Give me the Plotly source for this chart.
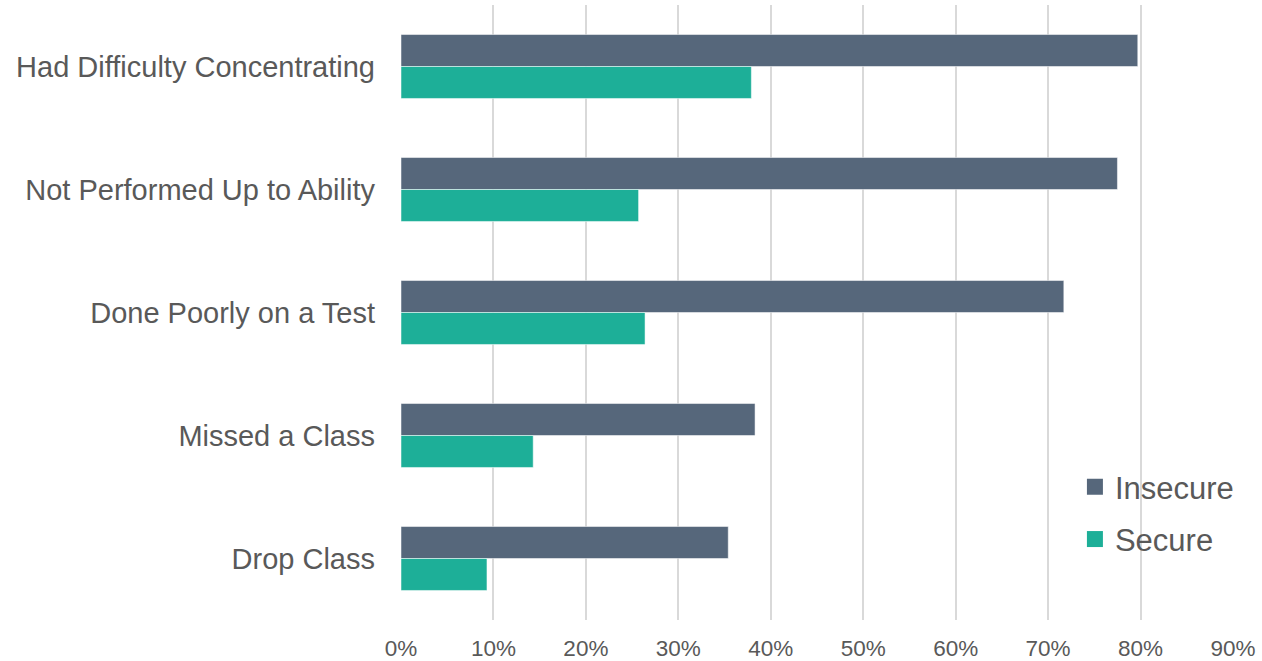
import plotly.graph_objects as go

categories = ["Had Difficulty Concentrating", "Not Performed Up to Ability",
              "Done Poorly on a Test", "Missed a Class", "Drop Class"]
insecure = [0.797, 0.775, 0.717, 0.383, 0.354]
secure = [0.379, 0.257, 0.264, 0.143, 0.093]
x_ticks = [0, 0.1, 0.2, 0.3, 0.4, 0.5, 0.6, 0.7, 0.8, 0.9]
series_names = ["Insecure", "Secure"]
series_colors = ["#56677B", "#1DAF98"]

TXT = "#595959"
FONT = "Arial"

fig = go.Figure()
for name, vals, col in zip(series_names, [insecure, secure], series_colors):
    fig.add_trace(go.Bar(y=categories, x=vals, name=name, orientation="h",
                         marker=dict(color=col, line=dict(color="rgba(255,255,255,0.5)", width=1)),
                         showlegend=False))
for i, (name, col) in enumerate(zip(series_names, series_colors)):
    fig.add_trace(go.Scatter(x=[None], y=[None], mode="markers", name=name,
                             marker=dict(symbol="square", size=16, color=col),
                             legendgroup=f"g{i}", hoverinfo="skip"))

fig.update_layout(
    width=1262, height=661,
    margin=dict(l=401, r=29, t=5, b=41),
    plot_bgcolor="white", paper_bgcolor="white",
    barmode="group", bargap=0.48, bargroupgap=0,
    font=dict(family=FONT, color=TXT),
    legend=dict(x=0.81, y=0.26, xanchor="left", yanchor="top",
                font=dict(size=31, color=TXT, family=FONT), traceorder="grouped",
                tracegroupgap=9, bgcolor="rgba(0,0,0,0)", itemwidth=30),
    xaxis=dict(range=[0, 0.9], tickvals=x_ticks, tickformat=".0%",
               showgrid=True, gridcolor="#d9d9d9", gridwidth=1.5,
               zeroline=False, showline=False, ticks="", automargin=False,
               tickfont=dict(size=22.5, color=TXT, family=FONT), ticklabelstandoff=12),
    yaxis=dict(autorange="reversed", showgrid=False, zeroline=False, automargin=False,
               showline=False, ticks="", tickfont=dict(size=29, color=TXT, family=FONT),
               ticklabelstandoff=25),
)

fig.write_html("out.html", config={"displayModeBar": False},
               post_script="document.body.style.margin='0';")
